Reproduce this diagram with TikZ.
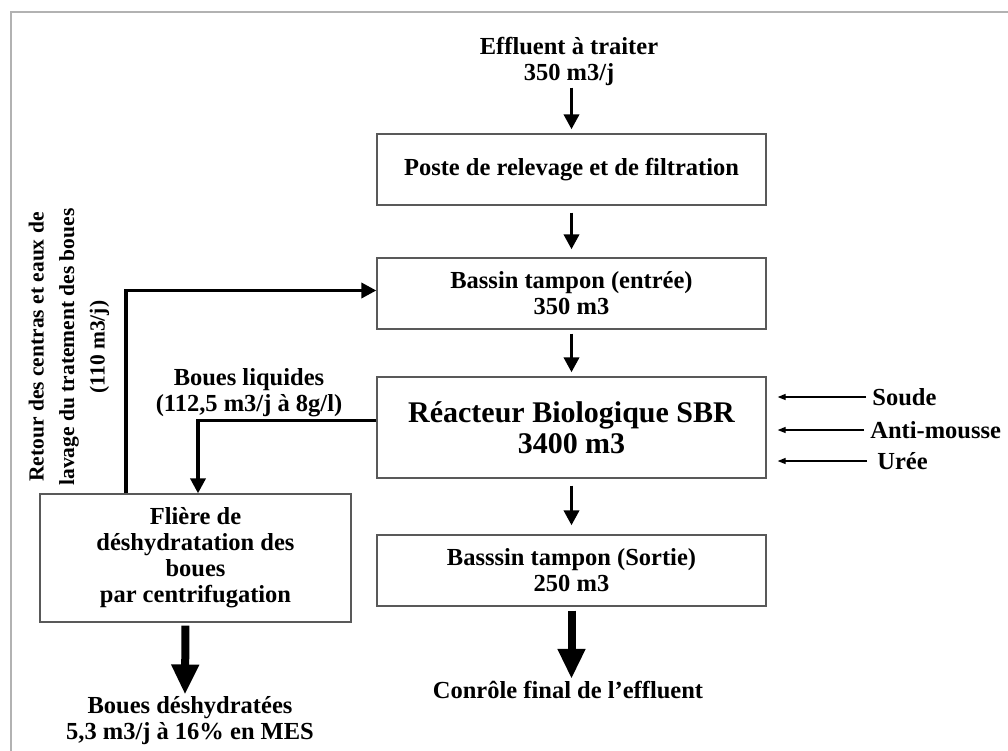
\documentclass[tikz,border=0pt]{standalone}
\usepackage{fontspec}
\setmainfont{Liberation Serif}
\usetikzlibrary{arrows.meta,calc}

\tikzset{
  every picture/.style={line width=0.75pt},
  txt/.style={font=\bfseries\fontsize{24.5}{26}\selectfont, align=center, inner sep=2pt},
  box/.style={txt, draw=black!65, line width=1.3pt, minimum width=389pt, minimum height=71pt},
  flow/.style={line width=3.6pt, -{Triangle[length=15pt,width=15pt]}},
  bigflow/.style={line width=8pt, -{Triangle[length=30pt,width=26pt]}},
  dose/.style={line width=1.2pt, -{Triangle[length=8pt,width=6pt]}},
}

\begin{document}
\begin{tikzpicture}[x=1pt,y=1pt,yscale=-1,xscale=1]
\useasboundingbox (0,0) rectangle (1008,751);
% cadre
\draw [black!30, line width=1.5pt] (11,751) -- (11,12) -- (1008,12);

% Text Node
\node (entree) [txt] at (569,61) {Effluent à traiter\\350 m3/j};
% Boxes
\node (poste) [box] at (571.5,169.5) {Poste de relevage et de filtration};
\node (bassinE) [box] at (571.5,293.5) {Bassin tampon (entrée)\\350 m3};
\node (reacteur) [box, minimum height=101pt, font=\bfseries\fontsize{30}{31}\selectfont] at (571.5,427.5) {Réacteur Biologique SBR\\3400 m3};
\node (bassinS) [box] at (571.5,570.5) {Basssin tampon (Sortie)\\250 m3};
\node (fliere) [box, minimum width=311pt, minimum height=128pt] at (195.5,558) {Flière de\\déshydratation des\\boues\\par centrifugation};
% Text Node
\node (controle) [txt] at (568,690) {Conrôle final de l’effluent};
\node (deshy) [txt] at (190,721) {Boues déshydratées\\5,3 m3/j à 16\% en MES};
\node (liquides) [txt] at (249,393) {Boues liquides\\(112,5 m3/j à 8g/l)};
\node (retour) [txt, rotate=90, font=\bfseries\fontsize{21.5}{30.5}\selectfont] at (69,347) {Retour des centras et eaux de\\lavage du tratement des boues\\(110 m3/j)};
\node (soude) [txt, anchor=west] at (870,397) {Soude};
\node (mousse) [txt, anchor=west] at (868,430) {Anti-mousse};
\node (uree) [txt, anchor=west] at (875,461) {Urée};

% file eau
\draw [flow, shorten >=4pt] (entree.south -| poste.north) -- (poste.north);
\draw [flow, shorten <=7pt, shorten >=8pt] (poste) -- (bassinE);
\draw [flow, shorten <=4pt, shorten >=4pt] (bassinE) -- (reacteur);
\draw [flow, shorten <=7pt, shorten >=9pt] (reacteur) -- (bassinS);
\draw [bigflow, shorten <=4pt] (bassinS.south) -- (controle.north -| bassinS.south);
% reactifs
\draw [dose, shorten <=4pt, shorten >=11pt] (soude.west) -- (soude.west -| reacteur.east);
\draw [dose, shorten <=4pt, shorten >=11pt] (mousse.west) -- (mousse.west -| reacteur.east);
\draw [dose, shorten <=8pt, shorten >=11pt] (uree.west) -- (uree.west -| reacteur.east);
% file boues
\draw [flow] ($(reacteur.west)+(0,-7)$) -| ($(fliere.north)+(2.5,0)$);
\draw [flow] ($(fliere.north)+(-69.5,0)$) |- ($(bassinE.west)+(0,-3)$);
\draw [bigflow, shorten <=3pt] ($(fliere.south)+(-10,0)$) -- ($(deshy.north)+(-5,0)$);

\end{tikzpicture}
\end{document}
